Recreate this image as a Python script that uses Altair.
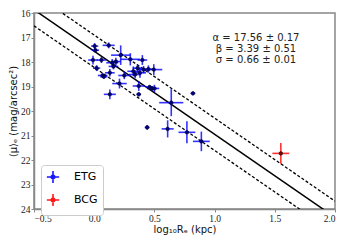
import altair as alt
import pandas as pd

# ---- data ----
etg_x = [0.004, 0.01, 0.12, -0.01, 0.06, 0.02, 0.07, 0.08, 0.13, 0.15, 0.16, 0.18,
         0.22, 0.25, 0.21, 0.13, 0.30, 0.325, 0.34, 0.36, 0.38, 0.40, 0.41, 0.45,
         0.495, 0.37, 0.37, 0.46, 0.48, 0.50, 0.64, 0.82, 0.44, 0.61, 0.77, 0.89]
etg_y = [17.35, 17.52, 17.32, 17.92, 17.92, 18.25, 18.55, 18.60, 18.44, 18.03, 18.18, 17.98,
         17.72, 18.55, 18.88, 19.32, 17.89, 18.38, 18.51, 18.25, 18.44, 17.92, 18.31, 18.29,
         18.31, 18.98, 19.32, 19.02, 19.08, 19.08, 19.66, 19.28, 20.67, 20.73, 20.87, 21.24]
etg_xerr = [0.03, 0.03, 0.05, 0.04, 0.04, 0.03, 0.04, 0.03, 0.04, 0.05, 0.04, 0.04,
            0.08, 0.05, 0.06, 0.05, 0.08, 0.05, 0.05, 0.04, 0.05, 0.04, 0.05, 0.04,
            0.07, 0.05, 0.02, 0.03, 0.04, 0.04, 0.10, 0.02, 0.02, 0.05, 0.07, 0.07]
etg_yerr = [0.12, 0.10, 0.12, 0.18, 0.12, 0.12, 0.10, 0.08, 0.15, 0.15, 0.12, 0.15,
            0.40, 0.15, 0.20, 0.20, 0.25, 0.20, 0.15, 0.15, 0.20, 0.20, 0.15, 0.15,
            0.22, 0.20, 0.08, 0.08, 0.10, 0.15, 0.55, 0.08, 0.10, 0.35, 0.45, 0.40]

bcg_x = [1.55]
bcg_y = [21.73]
bcg_xerr = [0.07]
bcg_yerr = [0.42]

groups = ["ETG", "BCG"]
alpha, beta, sigma = 17.56, 3.39, 0.66
alpha_err, beta_err, sigma_err = 0.17, 0.51, 0.01
x_range = [-0.5, 2.0]
y_range = [16, 24]
x_ticks = [-0.5, 0.0, 0.5, 1.0, 1.5, 2.0]
y_ticks = [16, 17, 18, 19, 20, 21, 22, 23, 24]

# ---- tables ----
etg = pd.DataFrame({"x": etg_x, "y": etg_y, "xe": etg_xerr, "ye": etg_yerr, "group": "ETG"})
bcg = pd.DataFrame({"x": bcg_x, "y": bcg_y, "xe": bcg_xerr, "ye": bcg_yerr, "group": "BCG"})
pts = pd.concat([etg, bcg], ignore_index=True)
pts["x_lo"] = pts["x"] - pts["xe"]
pts["x_hi"] = pts["x"] + pts["xe"]
pts["y_lo"] = pts["y"] - pts["ye"]
pts["y_hi"] = pts["y"] + pts["ye"]

fit_rows = []
for xv in x_range:
    for off, kind in [(0, "fit"), (sigma, "up"), (-sigma, "lo")]:
        fit_rows.append({"x": xv, "y": alpha + beta * xv + off, "kind": kind})
fit = pd.DataFrame(fit_rows)

label_text = (f"α = {alpha:.2f} ± {alpha_err:.2f}\n"
              f"β = {beta:.2f} ± {beta_err:.2f}\n"
              f"σ = {sigma:.2f} ± {sigma_err:.2f}")

# ---- scales & axes ----
xscale = alt.Scale(domain=x_range, nice=False, zero=False)
yscale = alt.Scale(domain=y_range, reverse=True, nice=False, zero=False)
xaxis = alt.Axis(values=x_ticks, format=".1f", title="log₁₀Rₑ (kpc)", grid=False, labelOverlap=False)
yaxis = alt.Axis(values=y_ticks, format="d", title="⟨μ⟩ₑ (mag/arcsec²)", grid=False, labelOverlap=False)
cscale = alt.Scale(domain=groups, range=["#0000ff", "#ff0000"])
fscale = alt.Scale(domain=groups, range=["#00008b", "#7a0000"])

base = alt.Chart(pts)

hbar = base.mark_rule(strokeWidth=1.6, opacity=0.8).encode(
    x=alt.X("x_lo:Q", scale=xscale, axis=xaxis),
    x2="x_hi:Q",
    y=alt.Y("y:Q", scale=yscale, axis=yaxis),
    color=alt.Color("group:N", scale=cscale, legend=alt.Legend(
        title=None, orient="none", legendX=7, legendY=152,
        symbolType="M-1,0L1,0M0,-1L0,1M-0.3,0A0.3,0.3 0 1,0 0.3,0A0.3,0.3 0 1,0 -0.3,0Z",
        symbolSize=150, symbolStrokeWidth=1.6, symbolFillColor="#111133",
        symbolOpacity=0.9,
        labelFont="DejaVu Sans", labelFontSize=11, labelColor="black",
        labelOffset=14, rowPadding=3, padding=5,
        strokeColor="#cccccc", fillColor="white", cornerRadius=3)),
)
vbar = base.mark_rule(strokeWidth=1.6, opacity=0.8).encode(
    x=alt.X("x:Q", scale=xscale, axis=xaxis),
    y=alt.Y("y_lo:Q", scale=yscale, axis=yaxis),
    y2="y_hi:Q",
    color=alt.Color("group:N", scale=cscale, legend=None),
)
dots = base.mark_point(filled=True, size=13, stroke="black", strokeWidth=0.5, opacity=1).encode(
    x=alt.X("x:Q", scale=xscale, axis=xaxis),
    y=alt.Y("y:Q", scale=yscale, axis=yaxis),
    fill=alt.Fill("group:N", scale=fscale, legend=None),
)

fitline = alt.Chart(fit).transform_filter("datum.kind == 'fit'").mark_line(
    color="black", strokeWidth=1.5, clip=True).encode(
    x=alt.X("x:Q", scale=xscale, axis=xaxis),
    y=alt.Y("y:Q", scale=yscale, axis=yaxis),
)
dashlines = alt.Chart(fit).transform_filter("datum.kind != 'fit'").mark_line(
    color="black", strokeWidth=1.3, strokeDash=[3, 2], clip=True).encode(
    x=alt.X("x:Q", scale=xscale, axis=xaxis),
    y=alt.Y("y:Q", scale=yscale, axis=yaxis),
    detail="kind:N",
)

txt = alt.Chart(pd.DataFrame({"t": [label_text]})).mark_text(
    align="center", baseline="top", lineBreak="\n", font="DejaVu Sans",
    fontSize=10, lineHeight=11, color="#222222").encode(
    x=alt.value(222), y=alt.value(20), text="t:N")

chart = alt.layer(fitline, dashlines, hbar, vbar, dots, txt).properties(
    width=301, height=196,
    padding={"left": 0, "top": 0, "right": 0, "bottom": 0},
    background="white",
).configure_view(stroke="#888888", strokeWidth=1.5).configure_axis(
    labelFont="Liberation Serif", labelFontSize=9.5, labelColor="#222222",
    titleFont="DejaVu Sans", titleFontSize=10, titleFontWeight="normal", titleColor="#111111",
    domainColor="#888888", domainWidth=1.5, tickColor="#888888", tickSize=3,
    labelPadding=1, titlePadding=2,
)

chart.save("out.html", embed_options={"renderer": "svg", "actions": False})
